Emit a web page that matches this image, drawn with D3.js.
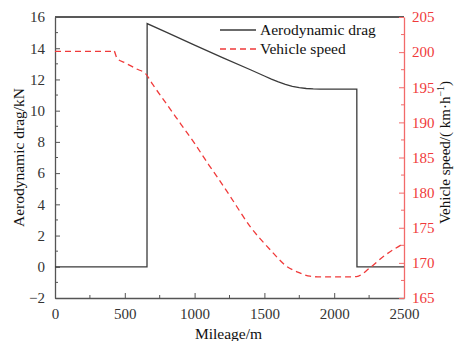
<!DOCTYPE html>
<html>
<head>
<meta charset="utf-8">
<script src="https://cdn.jsdelivr.net/npm/d3@7"></script>
<style>
  html, body { margin: 0; padding: 0; background: #fff; }
  svg text { font-family: "Liberation Serif", "Times New Roman", "DejaVu Serif", serif !important; }
</style>
</head>
<body>
<svg id="chart" width="454" height="341"></svg>
<script>
// Mileage (m) and aerodynamic drag (kN)
const dragMileage = [0, 659, 660, 800, 1000, 1200, 1400, 1500, 1550, 1600, 1650, 1700, 1750, 1800, 1850, 1900, 2000, 2162, 2163, 2500];
const dragValues  = [0, 0, 15.58, 15.02, 14.2, 13.4, 12.62, 12.22, 12.02, 11.84, 11.68, 11.56, 11.47, 11.42, 11.39, 11.38, 11.38, 11.38, 0, 0];

// Mileage (m) and vehicle speed (km/h)
const speedMileage = [0, 400, 420, 445, 500, 585, 650, 700, 800, 900, 1000, 1100, 1170, 1254, 1397, 1540, 1660, 1750, 1827, 1900, 2113, 2160, 2256, 2352, 2500];
const speedValues  = [200.1, 200.1, 200.25, 199.1, 198.5, 197.6, 196.9, 195.4, 192.6, 189.8, 187.0, 184.0, 182.0, 179.5, 175.2, 171.9, 169.5, 168.6, 168.1, 168.0, 168.0, 168.05, 169.3, 170.9, 172.8];

// Tick labels
const xTicks = [0, 500, 1000, 1500, 2000, 2500];
const yLeftTicks = [-2, 0, 2, 4, 6, 8, 10, 12, 14, 16];
const yRightTicks = [165, 170, 175, 180, 185, 190, 195, 200, 205];

const seriesNames = ["Aerodynamic drag", "Vehicle speed"];

const svg = d3.select("#chart");
const L = 55, R = 404, T = 17, B = 298;
const axisGray = "#555", textGray = "#333", red = "#f03a3a", axisRed = "#f26a6a";

const x = d3.scaleLinear().domain([0, 2500]).range([L, R]);
const yL = d3.scaleLinear().domain([-2, 16]).range([B, T]);
const yR = d3.scaleLinear().domain([165, 205]).range([B, T]);

// Top frame line
svg.append("line").attr("x1", L).attr("x2", R).attr("y1", T).attr("y2", T)
  .attr("stroke", "#222").attr("stroke-width", 1.3);

// Minor ticks
function minor(g, vals, fn) {
  g.selectAll(null).data(vals).enter().append("line").each(function (d) { fn(d3.select(this), d); });
}

// Bottom axis
const gx = svg.append("g").attr("transform", `translate(0,${B})`)
  .call(d3.axisBottom(x).tickValues(xTicks).tickSize(-5).tickSizeOuter(0).tickPadding(10).tickFormat(d3.format("d")));
minor(gx, d3.range(250, 2500, 500), (s, d) => s.attr("x1", x(d)).attr("x2", x(d)).attr("y1", 0).attr("y2", -3));

// Left axis
const gyL = svg.append("g").attr("transform", `translate(${L},0)`)
  .call(d3.axisLeft(yL).tickValues(yLeftTicks).tickSize(-5).tickSizeOuter(0).tickPadding(10)
    .tickFormat(d => d < 0 ? "\u2212" + Math.abs(d) : d));
minor(gyL, d3.range(-1, 16, 2), (s, d) => s.attr("x1", 0).attr("x2", 3).attr("y1", yL(d)).attr("y2", yL(d)));

// Right axis
const gyR = svg.append("g").attr("transform", `translate(${R},0)`)
  .call(d3.axisRight(yR).tickValues(yRightTicks).tickSize(-5).tickSizeOuter(0).tickPadding(8));
minor(gyR, d3.range(167.5, 205, 5), (s, d) => s.attr("x1", 0).attr("x2", -3).attr("y1", yR(d)).attr("y2", yR(d)));

[gx, gyL].forEach(g => {
  g.selectAll("path.domain").attr("stroke", axisGray).attr("stroke-width", 1.3);
  g.selectAll("line").attr("stroke", axisGray).attr("stroke-width", 1);
  g.selectAll("text").attr("fill", textGray).attr("font-size", 15);
});
gyR.selectAll("path.domain").attr("stroke", axisRed).attr("stroke-width", 1.3);
gyR.selectAll("line").attr("stroke", axisRed).attr("stroke-width", 1);
gyR.selectAll("text").attr("fill", red).attr("font-size", 15);

// Data lines
const dragLine = d3.line().x((d, i) => x(dragMileage[i])).y(d => yL(d));
svg.append("path").datum(dragValues).attr("d", dragLine)
  .attr("fill", "none").attr("stroke", "#3a3a3a").attr("stroke-width", 1.3);

const speedLine = d3.line().curve(d3.curveMonotoneX).x((d, i) => x(speedMileage[i])).y(d => yR(d));
svg.append("path").datum(speedValues).attr("d", speedLine)
  .attr("fill", "none").attr("stroke", red).attr("stroke-width", 1.3).attr("stroke-dasharray", "6,4");

// Legend
const lg = svg.append("g");
seriesNames.forEach((name, i) => {
  const yy = 30 + i * 19;
  lg.append("line").attr("x1", 220).attr("x2", 256).attr("y1", yy).attr("y2", yy)
    .attr("stroke", i === 0 ? "#3a3a3a" : red).attr("stroke-width", 1.3)
    .attr("stroke-dasharray", i === 0 ? null : "6,4");
  lg.append("text").attr("x", 260).attr("y", yy + 5).attr("font-size", 15.5).attr("fill", "#111").text(name);
});

// Axis titles
svg.append("text").attr("transform", `translate(${L + (R - L) / 2 - 1},339)`)
  .attr("text-anchor", "middle").attr("font-size", 15.5).attr("fill", "#111").text("Mileage/m");
svg.append("text").attr("transform", `translate(24,${(T + B) / 2}) rotate(-90)`)
  .attr("text-anchor", "middle").attr("font-size", 15.5).attr("fill", "#111").text("Aerodynamic drag/kN");
const rt = svg.append("text").attr("transform", `translate(450,${(T + B) / 2 - 5}) rotate(-90)`)
  .attr("text-anchor", "middle").attr("font-size", 15).attr("fill", "#111");
rt.append("tspan").text("Vehicle speed/( km\u00b7h");
rt.append("tspan").attr("dy", -6).attr("font-size", 10).text("\u22121");
rt.append("tspan").attr("dy", 6).text(")");
</script>
</body>
</html>
